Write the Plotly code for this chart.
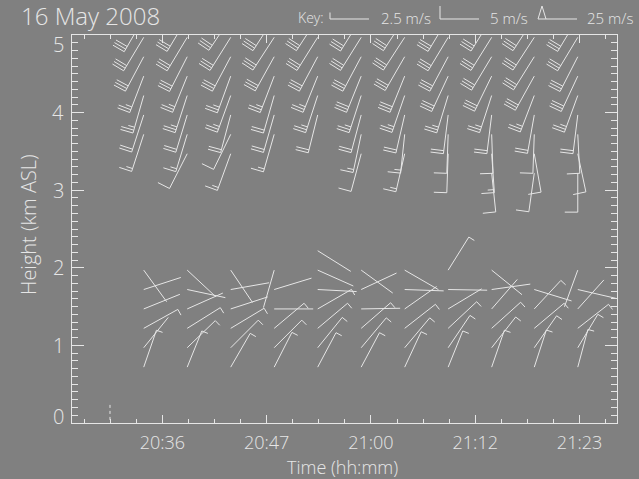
import numpy as np
import plotly.graph_objects as go

# profile times (minutes after 20:00) and gate heights (km ASL)
times = [33.9, 38.8, 43.7, 48.6, 53.5, 58.4, 63.3, 68.2, 73.1, 77.9, 82.8]
upper_h = [5.22, 4.97, 4.72, 4.47, 4.22, 3.97, 3.72, 3.47, 3.22]
lower_h = [0.72, 0.97, 1.22, 1.47, 1.72, 1.97, 2.22]

# wind direction (deg, from) and speed (m/s), one list per profile
upper_dir = [
    [210, 211, 208, 201, 196, 198, 198, None, None],
    [211, 211, 207, 202, 198, 197, 197, 207, None],
    [214, 212, 208, 200, 200, 195, 206, 200, None],
    [213, 213, 209, 201, 196, 196, 196, None, None],
    [213, 212, 208, 202, 198, 194, None, None, None],
    [212, 212, 208, 202, 198, 195, 192, 195, None],
    [213, 213, 210, 202, 199, 193, 186, 193, None],
    [211, 211, 208, 205, 197, 187, 182, 182, None],
    [212, 212, 211, 206, 198, 187, 178, 176, 174],
    [213, 213, 212, 209, 201, 190, 182, 170, 188],
    [211, 211, 207, 205, 200, 187, 177, 168, 180],
]
upper_spd = [
    [15, 15, 15, 12.5, 12.5, 10, 7.5, None, None],
    [15, 15, 15, 12.5, 12.5, 10, 7.5, 5, None],
    [15, 15, 15, 12.5, 12.5, 10, 5, 7.5, None],
    [15, 15, 15, 12.5, 10, 10, 7.5, None, None],
    [15, 15, 15, 12.5, 12.5, 10, None, None, None],
    [15, 15, 15, 15, 12.5, 10, 7.5, 5, None],
    [15, 15, 15, 15, 12.5, 10, 7.5, 7.5, None],
    [15, 15, 15, 15, 12.5, 10, 5, 5, None],
    [15, 15, 15, 15, 12.5, 10, 5, 7.5, 5],
    [15, 15, 15, 15, 12.5, 10, 5, 5, 5],
    [15, 15, 15, 15, 12.5, 10, 5, 5, 5],
]
lower_dir = [
    [19, 39, 61, 68, 72, 144, None],
    [22, 46, 58, 66, 102, 133, None],
    [30, 45, 59, 72, 80, 146, None],
    [27, 45, 50, 90, 73, 196, None],
    [28, 39, 50, 60, 93, 114, 122],
    [28, 40, 49, 89, 65, 126, None],
    [25, 40, 52, 55, 92, 120, None],
    [22, 34, 47, 59, 91, 32, None],
    [19, 38, 48, 41, 82, 129, None],
    [18, 35, 50, 43, 107, None, None],
    [15, 31, 52, 42, 103, 200, None],
]
lower_spd = [
    [2.5, 1, 2.5, 1, 1, 1, None],
    [2.5, 2.5, 2.5, 1, 1, 1, None],
    [2.5, 2.5, 2.5, 1, 1, 1, None],
    [2.5, 2.5, 2.5, 1, 1, 1, None],
    [2.5, 2.5, 2.5, 2.5, 1, 1, 1],
    [2.5, 2.5, 2.5, 1, 1, 1, None],
    [2.5, 2.5, 2.5, 1, 1, 1, None],
    [2.5, 2.5, 2.5, 1, 1, 2.5, None],
    [2.5, 2.5, 2.5, 1, 1, 1, None],
    [2.5, 2.5, 2.5, 2.5, 1, None, None],
    [2.5, 2.5, 2.5, 1, 1, 1, None],
]

# dotted marker near the ground
dot_t = [30.1, 30.1]
dot_h = [0.04, 0.26]

tick_times = [36, 47.75, 59.5, 71.25, 83]
tick_text = ["20:36", "20:47", "21:00", "21:12", "21:23"]
height_ticks = [0, 1, 2, 3, 4, 5]

key_spd = [2.5, 5, 25]
key_text = ["2.5 m/s", "5 m/s", "25 m/s"]

FG = "#e6e6e6"
BG = "#808080"
FONT = "Open Sans"
W, H = 639, 479
ML, MR, MT, MB = 72, 22, 35, 56
X_RANGE = [25.82, 87.22]
Y_RANGE = [0, 5]
PW, PH = W - ML - MR, H - MT - MB
PX_MIN = PW / (X_RANGE[1] - X_RANGE[0])
PX_KM = PH / (Y_RANGE[1] - Y_RANGE[0])

STAFF, FULL, HALF, GAP = 39, 13, 6.5, 3


def barb(d, spd):
    # polylines in pixel offsets (x right, y up) from the station
    r = np.radians(d)
    u = np.array([np.sin(r), np.cos(r)])
    f = np.array([u[1], -u[0]])
    tip = STAFF * u
    lines = [[np.zeros(2), tip]]
    n = int(round(spd / 2.5))
    pen, rest = divmod(n, 10)
    full, half = divmod(rest, 2)
    pos = 0.0
    for _ in range(pen):
        a = tip - pos * u
        b = tip - (pos + 8) * u
        lines.append([a, (a + b) / 2 + FULL * f, b])
        pos += 8 + GAP
    for _ in range(full):
        a = tip - pos * u
        lines.append([a, a + FULL * f])
        pos += GAP
    for _ in range(half):
        a = tip - pos * u
        lines.append([a, a + HALF * f])
    return lines


bx, by = [], []


def add_barbs(heights, dirs, spds):
    for i, t in enumerate(times):
        for j, h in enumerate(heights):
            d, s = dirs[i][j], spds[i][j]
            if d is None:
                continue
            for line in barb(d, s):
                for p in line:
                    bx.append(t + p[0] / PX_MIN)
                    by.append(h + p[1] / PX_KM)
                bx.append(None)
                by.append(None)


add_barbs(upper_h, upper_dir, upper_spd)
add_barbs(lower_h, lower_dir, lower_spd)

fig = go.Figure()
fig.add_trace(go.Scatter(x=bx, y=by, mode="lines", line=dict(color=FG, width=1),
                         hoverinfo="skip", showlegend=False))
fig.add_trace(go.Scatter(x=dot_t, y=dot_h, mode="lines",
                         line=dict(color=FG, width=1, dash="dot"), showlegend=False))


def px2paper(x, y):
    return (x - ML) / PW, (H - MB - y) / PH


# key, drawn in paper coords
shapes = []
key_station_x = [369, 479, 577]
key_label_x = [379, 488, 585]
key_y = 19
for k, s in enumerate(key_spd):
    for line in barb(270, s):
        pts = [px2paper(key_station_x[k] + p[0], key_y - p[1]) for p in line]
        path = "M " + " L ".join(f"{a:.5f},{b:.5f}" for a, b in pts)
        shapes.append(dict(type="path", xref="paper", yref="paper", path=path,
                           line=dict(color=FG, width=1)))

ann = []
fx, fy = px2paper(20, 16)
ann.append(dict(text="16 May 2008", x=fx, y=fy, xanchor="left", yanchor="middle",
                font=dict(size=24), borderpad=0))
fx, fy = px2paper(296, 18)
ann.append(dict(text="Key:", x=fx, y=fy, xanchor="left", yanchor="middle",
                font=dict(size=14)))
for k, txt in enumerate(key_text):
    fx, fy = px2paper(key_label_x[k], 18)
    ann.append(dict(text=txt, x=fx, y=fy, xanchor="left", yanchor="middle",
                    font=dict(size=15)))
fx, fy = px2paper(28, 225)
ann.append(dict(text="Height (km ASL)", x=fx, y=fy, textangle=-90,
                xanchor="center", yanchor="middle", font=dict(size=20)))
fx, fy = px2paper(342, 467)
ann.append(dict(text="Time (hh:mm)", x=fx, y=fy, xanchor="center", yanchor="middle",
                font=dict(size=18), borderpad=0))
# y tick labels kept inside the axis span, as in the original
for v in height_ticks:
    shift = 7 if v == Y_RANGE[0] else (-9 if v == Y_RANGE[1] else 0)
    ann.append(dict(text=str(v), x=-0.012, y=v, yref="y", xanchor="right",
                    yanchor="middle", yshift=shift, font=dict(size=20), borderpad=0))
for a in ann:
    a.setdefault("yref", "paper")
    a.update(xref="paper", showarrow=False)
    a["font"].update(color=FG, family=FONT, weight=300)

fig.update_layout(
    width=W, height=H,
    margin=dict(l=ML, r=MR, t=MT, b=MB),
    paper_bgcolor=BG, plot_bgcolor=BG,
    font=dict(family=FONT, color=FG, size=18, weight=300),
    shapes=shapes, annotations=ann,
    xaxis=dict(range=X_RANGE, tickvals=tick_times, ticktext=tick_text,
               ticks="inside", ticklen=8, tickcolor=FG, showgrid=False, zeroline=False,
               showline=True, linecolor=FG, linewidth=1, mirror="ticks",
               ticklabelstandoff=3,
               minor=dict(tick0=36, dtick=11.75 / 4, ticks="inside", ticklen=4,
                          tickcolor=FG, showgrid=False)),
    yaxis=dict(range=Y_RANGE, tickvals=height_ticks, showticklabels=False,
               ticks="inside", ticklen=12, tickcolor=FG, showgrid=False, zeroline=False,
               showline=True, linecolor=FG, linewidth=1, mirror="ticks",
               minor=dict(dtick=0.1, ticks="inside", ticklen=6, tickcolor=FG,
                          showgrid=False)),
)

fig.write_html("out.html", config={"displayModeBar": False},
               post_script="document.body.style.margin='0';")
